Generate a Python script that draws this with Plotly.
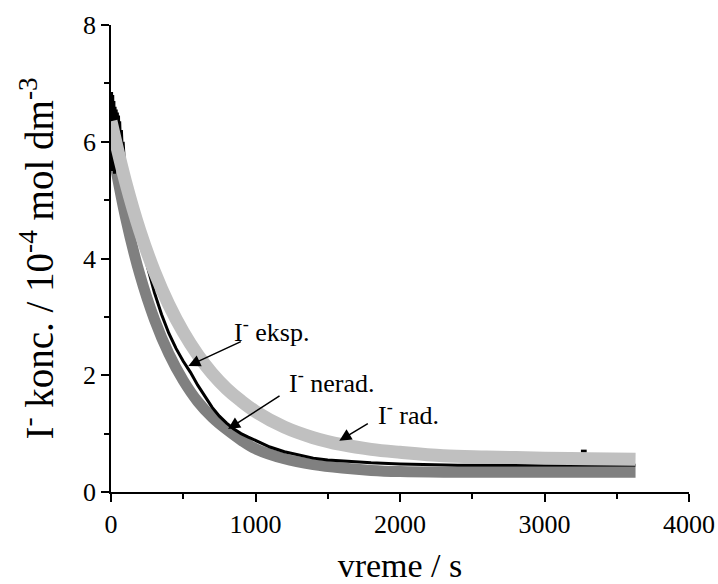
import plotly.graph_objects as go

# ---- data ----
# I- rad. (light gray)
t_rad = [0, 100, 200, 300, 400, 500, 600, 700, 800, 900, 1000, 1200, 1400, 1600, 1800, 2000, 2300, 2600, 3000, 3300, 3630]
c_rad = [6.35, 5.32, 4.47, 3.78, 3.21, 2.74, 2.35, 2.03, 1.77, 1.56, 1.38, 1.11, 0.93, 0.81, 0.73, 0.68, 0.62, 0.60, 0.58, 0.57, 0.56]

# I- nerad. (dark gray)
t_nerad = [0, 100, 200, 300, 400, 500, 600, 700, 800, 900, 1000, 1200, 1400, 1600, 1800, 2000, 2300, 2600, 3000, 3630]
c_nerad = [5.99, 4.71, 3.72, 2.96, 2.37, 1.91, 1.55, 1.28, 1.07, 0.89, 0.74, 0.57, 0.47, 0.41, 0.37, 0.35, 0.34, 0.34, 0.34, 0.34]

# I- eksp. (black, measured; the isolated outlier near 3270 s is listed after a None gap)
t_eksp = [0, 4, 8, 12, 16, 20, 24, 28, 32, 36, 40, 44, 48, 52, 56, 60, 66, 72, 78, 84, 90,
          100, 150, 200, 250, 300, 350, 400, 450, 500, 550, 600, 650, 700, 750, 800, 850, 900, 950, 1000,
          1100, 1200, 1300, 1400, 1500, 1600, 1800, 2000, 2400, 2800, 3630, None, 3252, 3292]
c_eksp = [6.0, 6.85, 5.5, 6.8, 5.6, 6.7, 5.45, 6.6, 5.7, 6.55, 5.8, 6.5, 5.9, 6.45, 5.85, 6.35, 5.9, 6.2, 5.85, 6.0, 5.75,
          5.48, 4.95, 4.40, 3.88, 3.42, 3.04, 2.72, 2.46, 2.24, 2.05, 1.83, 1.63, 1.45, 1.30, 1.18, 1.08, 1.00, 0.94, 0.88,
          0.77, 0.69, 0.63, 0.58, 0.55, 0.53, 0.50, 0.48, 0.46, 0.46, 0.46, None, 0.70, 0.70]

x_ticks = [0, 1000, 2000, 3000, 4000]
y_ticks = [0, 2, 4, 6, 8]

FONT = "Liberation Serif"

fig = go.Figure()
fig.add_trace(go.Scatter(x=t_nerad, y=c_nerad, mode="lines", name="I- nerad.",
                         line=dict(color="#808080", width=11, shape="spline")))
fig.add_trace(go.Scatter(x=t_eksp, y=c_eksp, mode="lines", name="I- eksp.", connectgaps=False,
                         line=dict(color="#000000", width=3)))
fig.add_trace(go.Scatter(x=t_rad, y=c_rad, mode="lines", name="I- rad.",
                         line=dict(color="#c0c0c0", width=13, shape="spline")))

# arrows
arrow_kw = dict(showarrow=True, arrowhead=2, arrowsize=1.6, arrowwidth=1.5,
                arrowcolor="black", standoff=0, startstandoff=0, text="",
                xref="x", yref="y")
fig.add_annotation(x=535, y=2.16, ax=54, ay=-25, **arrow_kw)
fig.add_annotation(x=810, y=1.08, ax=53, ay=-34, **arrow_kw)
fig.add_annotation(x=1580, y=0.88, ax=30, ay=-18, **arrow_kw)

# labels
lab_kw = dict(showarrow=False, xref="x", yref="y", xanchor="left", yanchor="middle",
              font=dict(family=FONT, size=26, color="black"), borderpad=0)
fig.add_annotation(x=846, y=2.76, text="I<sup>-</sup> eksp.", **lab_kw)
fig.add_annotation(x=1226, y=1.90, text="I<sup>-</sup> nerad.", **lab_kw)
fig.add_annotation(x=1842, y=1.34, text="I<sup>-</sup> rad.", **lab_kw)

fig.update_layout(
    width=718, height=584,
    margin=dict(l=111, r=29, t=25, b=92, autoexpand=False),
    paper_bgcolor="white", plot_bgcolor="white",
    showlegend=False,
    font=dict(family=FONT, size=26, color="black"),
)
fig.update_xaxes(
    range=[0, 4000], tickvals=x_ticks, ticktext=[str(v) for v in x_ticks],
    ticks="outside", ticklen=8, tickwidth=1.5, tickcolor="black",
    showline=True, linecolor="black", linewidth=1.5, showgrid=False, zeroline=False,
    minor=dict(dtick=500, tick0=0, ticks="outside", ticklen=5, tickwidth=1.5, tickcolor="black", showgrid=False),
    tickfont=dict(family=FONT, size=26), automargin=False,
    title=dict(text="vreme / s", font=dict(family=FONT, size=34), standoff=15),
)
fig.update_yaxes(
    range=[0, 8], tickvals=y_ticks, ticktext=[str(v) for v in y_ticks],
    ticks="outside", ticklen=8, tickwidth=1.5, tickcolor="black",
    showline=True, linecolor="black", linewidth=1.5, showgrid=False, zeroline=False,
    minor=dict(dtick=1, tick0=0, ticks="outside", ticklen=5, tickwidth=1.5, tickcolor="black", showgrid=False),
    tickfont=dict(family=FONT, size=26), automargin=False,
    title=dict(text="I<sup>-</sup> konc. / 10<sup>-4</sup> mol dm<sup>-3</sup>", font=dict(family=FONT, size=39), standoff=17),
)

fig.write_html("out.html",
               config={"displayModeBar": False},
               post_script="document.body.style.margin='0';document.body.style.overflow='hidden';")
